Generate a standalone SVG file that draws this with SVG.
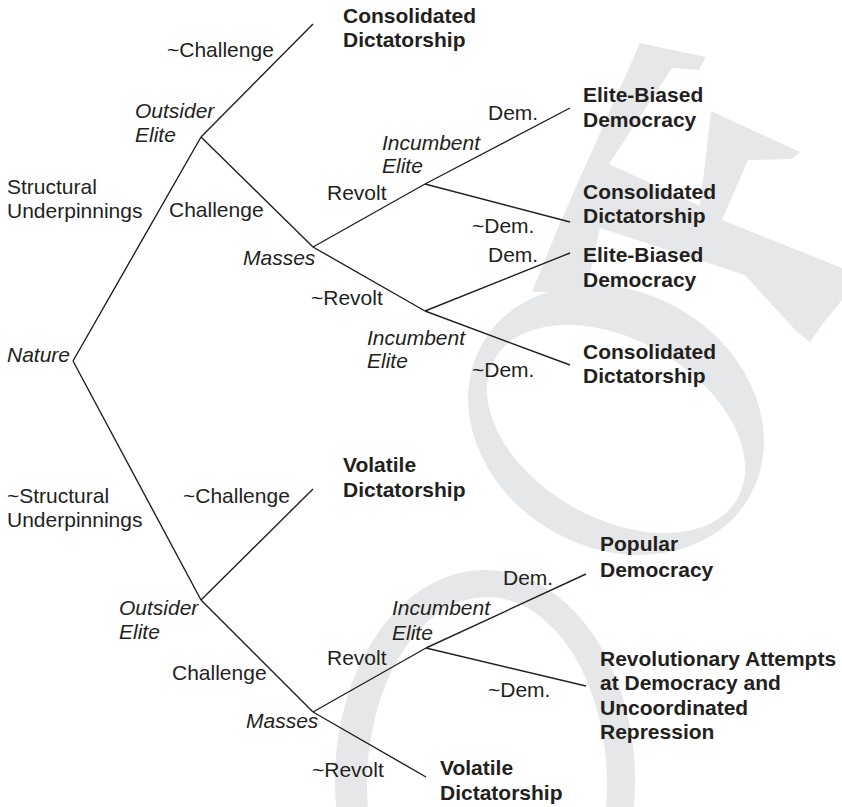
<svg xmlns="http://www.w3.org/2000/svg" width="842" height="807" viewBox="0 0 842 807">
<style>
text{font-family:"Liberation Sans",Arial,Helvetica,sans-serif;font-size:21px;fill:#231f20}
.b{font-weight:bold}
.i{font-style:italic}
.wm{fill:#e6e7e8}
.wh{fill:#ffffff}
#connectors line{stroke:#231f20;stroke-width:1.4;fill:none}
</style>
<rect width="842" height="807" fill="#ffffff"/>
<g id="watermark">
<path class="wm" d="M640,43 L706,57 L699,70 L672,68 L609,164 L700,206 L711,111 L800,152 L792,159 L748,160 L722,220 L842,268 L842,300 L824,322 L810,342 L797,332 L745,275 L600,228 L586,292 L532,292 L560,223 Z"/>
<ellipse class="wm" cx="616" cy="420" rx="154" ry="128" transform="rotate(30 616 420)"/>
<ellipse class="wh" cx="616" cy="429" rx="140" ry="89" transform="rotate(30 616 429)"/>
<ellipse class="wm" cx="485" cy="780" rx="150" ry="210"/>
<ellipse class="wh" cx="487" cy="785" rx="120" ry="188"/>
</g>
<g id="connectors">
<line x1="73" y1="361" x2="201" y2="137"/>
<line x1="201" y1="137" x2="313" y2="24"/>
<line x1="201" y1="137" x2="313" y2="247"/>
<line x1="313" y1="247" x2="425" y2="184"/>
<line x1="425" y1="184" x2="570" y2="108"/>
<line x1="425" y1="184" x2="570" y2="222"/>
<line x1="313" y1="247" x2="425" y2="311"/>
<line x1="425" y1="311" x2="570" y2="253"/>
<line x1="425" y1="311" x2="570" y2="365"/>
<line x1="73" y1="361" x2="201" y2="600"/>
<line x1="201" y1="600" x2="313" y2="489"/>
<line x1="201" y1="600" x2="313" y2="712"/>
<line x1="313" y1="712" x2="426" y2="648"/>
<line x1="426" y1="648" x2="586" y2="574"/>
<line x1="426" y1="648" x2="586" y2="686"/>
<line x1="313" y1="712" x2="426" y2="777"/>
</g>
<g id="edge-labels">
<text x="7" y="194">Structural</text><text x="7" y="218">Underpinnings</text>
<text x="7" y="503">~Structural</text><text x="7" y="527">Underpinnings</text>
<text x="167" y="57">~Challenge</text>
<text x="169" y="217">Challenge</text>
<text x="183" y="503">~Challenge</text>
<text x="172" y="680">Challenge</text>
<text x="327" y="200">Revolt</text>
<text x="311" y="305">~Revolt</text>
<text x="327" y="665">Revolt</text>
<text x="312" y="777">~Revolt</text>
<text x="488" y="120">Dem.</text>
<text x="472" y="233">~Dem.</text>
<text x="488" y="262">Dem.</text>
<text x="472" y="377">~Dem.</text>
<text x="503" y="585">Dem.</text>
<text x="488" y="697">~Dem.</text>
</g>
<g id="nature"><text class="i" x="7" y="362">Nature</text></g>
<g id="outsider-elite-1"><text class="i" x="135" y="118">Outsider</text><text class="i" x="135" y="142">Elite</text></g>
<g id="masses-1"><text class="i" x="243" y="265">Masses</text></g>
<g id="incumbent-elite-1"><text class="i" x="382" y="150">Incumbent</text><text class="i" x="382" y="173">Elite</text></g>
<g id="incumbent-elite-2"><text class="i" x="367" y="345">Incumbent</text><text class="i" x="367" y="368">Elite</text></g>
<g id="outsider-elite-2"><text class="i" x="119" y="615">Outsider</text><text class="i" x="119" y="639">Elite</text></g>
<g id="masses-2"><text class="i" x="246" y="728">Masses</text></g>
<g id="incumbent-elite-3"><text class="i" x="392" y="615">Incumbent</text><text class="i" x="392" y="640">Elite</text></g>
<g id="outcome-1"><text class="b" x="343" y="23">Consolidated</text><text class="b" x="343" y="47">Dictatorship</text></g>
<g id="outcome-2"><text class="b" x="583" y="102">Elite-Biased</text><text class="b" x="583" y="127">Democracy</text></g>
<g id="outcome-3"><text class="b" x="583" y="199">Consolidated</text><text class="b" x="583" y="223">Dictatorship</text></g>
<g id="outcome-4"><text class="b" x="583" y="262">Elite-Biased</text><text class="b" x="583" y="287">Democracy</text></g>
<g id="outcome-5"><text class="b" x="583" y="359">Consolidated</text><text class="b" x="583" y="383">Dictatorship</text></g>
<g id="outcome-6"><text class="b" x="343" y="472">Volatile</text><text class="b" x="343" y="497">Dictatorship</text></g>
<g id="outcome-7"><text class="b" x="600" y="551">Popular</text><text class="b" x="600" y="577">Democracy</text></g>
<g id="outcome-8"><text class="b" x="600" y="666">Revolutionary Attempts</text><text class="b" x="600" y="690">at Democracy and</text><text class="b" x="600" y="715">Uncoordinated</text><text class="b" x="600" y="739">Repression</text></g>
<g id="outcome-9"><text class="b" x="440" y="775">Volatile</text><text class="b" x="440" y="800">Dictatorship</text></g>
</svg>
